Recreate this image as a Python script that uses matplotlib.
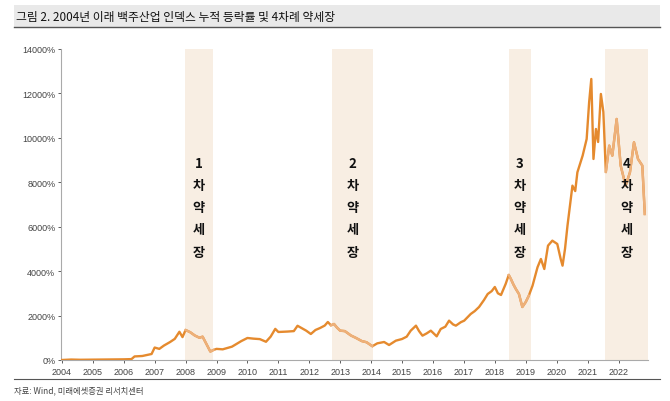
import numpy as np
import matplotlib
matplotlib.use("Agg")
import matplotlib.pyplot as plt
from matplotlib.patches import Rectangle
from matplotlib.lines import Line2D

plt.rcParams['font.family'] = ['Noto Sans CJK KR', 'DejaVu Sans']

# cumulative return of the baijiu index (%)
years = [2004.0, 2004.3, 2004.6, 2005.0, 2005.5, 2006.0, 2006.25, 2006.35, 2006.6, 2006.9,
         2007.0, 2007.15, 2007.3, 2007.5, 2007.65, 2007.8, 2007.9, 2008.0, 2008.15, 2008.3,
         2008.45, 2008.55, 2008.7, 2008.8, 2008.9, 2009.0, 2009.2, 2009.5, 2009.8, 2010.0,
         2010.2, 2010.4, 2010.6, 2010.75, 2010.9, 2011.0, 2011.3, 2011.5, 2011.62, 2011.8,
         2011.9, 2012.05, 2012.2, 2012.35, 2012.5, 2012.6, 2012.7, 2012.8, 2012.9, 2013.0,
         2013.15, 2013.35, 2013.5, 2013.7, 2013.85, 2014.04, 2014.2, 2014.42, 2014.58, 2014.8,
         2015.0, 2015.15, 2015.28, 2015.45, 2015.55, 2015.66, 2015.8, 2015.93, 2016.12, 2016.25,
         2016.4, 2016.52, 2016.65, 2016.74, 2016.9, 2017.01, 2017.22, 2017.35, 2017.49, 2017.65,
         2017.77, 2017.9, 2018.0, 2018.1, 2018.2, 2018.35, 2018.45, 2018.52, 2018.6, 2018.68,
         2018.78, 2018.89, 2019.0, 2019.1, 2019.22, 2019.38, 2019.49, 2019.6, 2019.72, 2019.86,
         2020.02, 2020.13, 2020.19, 2020.27, 2020.35, 2020.51, 2020.6, 2020.67, 2020.84, 2020.97,
         2021.05, 2021.12, 2021.19, 2021.27, 2021.34, 2021.43, 2021.51, 2021.59, 2021.70, 2021.80,
         2021.94, 2022.07, 2022.23, 2022.37, 2022.50, 2022.63, 2022.77, 2022.85]
returns = [0, 20, 10, 15, 20, 30, 40, 160, 180, 270,
           560, 500, 650, 810, 950, 1270, 1030, 1350, 1250, 1100,
           1000, 1050, 650, 380, 450, 500, 480, 600, 850, 990,
           960, 940, 820, 1050, 1400, 1260, 1280, 1300, 1540, 1400,
           1320, 1170, 1350, 1440, 1550, 1710, 1560, 1620, 1450, 1320,
           1300, 1100, 1000, 850, 800, 620, 750, 810, 675, 870,
           945, 1050, 1320, 1545, 1300, 1095, 1200, 1320, 1065, 1395,
           1500, 1770, 1600, 1545, 1700, 1770, 2070, 2200, 2385, 2700,
           2970, 3100, 3285, 3000, 2925, 3420, 3825, 3645, 3400, 3195,
           2970, 2385, 2610, 2895, 3345, 4170, 4545, 4095, 5145, 5370,
           5220, 4545, 4245, 5000, 6045, 7845, 7600, 8445, 9195, 9945,
           11600, 12645, 9045, 10395, 9810, 11970, 11160, 8460, 9645, 9195,
           10845, 8745, 7845, 8445, 9795, 9045, 8745, 6570]

# bear market windows
bear_start = [2007.98, 2012.73, 2018.45, 2021.56]
bear_end = [2008.88, 2014.05, 2019.16, 2022.95]
bear_labels = ["1\n차\n약\n세\n장", "2\n차\n약\n세\n장", "3\n차\n약\n세\n장", "4\n차\n약\n세\n장"]

x = np.array(years)
y = np.array(returns)

fig = plt.figure(figsize=(6.7, 4.02), dpi=100)
ax = fig.add_axes([0.091, 0.102, 0.876, 0.774])

for s, e, lab in zip(bear_start, bear_end, bear_labels):
    ax.axvspan(s, e, color='#F8EEE3', lw=0, zorder=0)
    ax.text((s + e) / 2, 9200, lab, ha='center', va='top', fontsize=9.5,
            fontweight='bold', color='#111111', linespacing=1.75, zorder=5)

ax.plot(x, y, color='#E58A2E', lw=1.7, zorder=3)
# lighter colour inside the bear windows
for s, e in zip(bear_start, bear_end):
    m = (x >= s - 0.03) & (x <= e + 0.03)
    ax.plot(x[m], y[m], color='#EDB07A', lw=1.7, zorder=4)

ax.set_xlim(2003.97, 2022.95)
ax.set_ylim(0, 14000)
ax.set_yticks(np.arange(0, 14001, 2000))
ax.set_yticklabels([f"{v}%" for v in range(0, 14001, 2000)])
ax.set_xticks(range(2004, 2023))
ax.tick_params(axis='both', labelsize=6.5, colors='#444444', length=2, width=0.6,
               pad=2, labelfontfamily='Liberation Sans')
ax.tick_params(axis='x', pad=3)
for sp in ['top', 'right']:
    ax.spines[sp].set_visible(False)
for sp in ['left', 'bottom']:
    ax.spines[sp].set_color('#AAAAAA')
    ax.spines[sp].set_linewidth(0.8)

# title bar
fig.patches.append(Rectangle((14 / 670, 1 - 28 / 402), 646 / 670, 22 / 402,
                             transform=fig.transFigure, color='#E9E9E9', lw=0))
fig.lines.append(Line2D([14 / 670, 660 / 670], [1 - 28 / 402] * 2,
                        transform=fig.transFigure, color='#555555', lw=1.0))
fig.text(16 / 670, 1 - 17 / 402, "그림 2. 2004년 이래 백주산업 인덱스 누적 등락률 및 4차례 약세장",
         fontsize=8.5, va='center', ha='left', color='#111111')

# footer
fig.lines.append(Line2D([14 / 670, 660 / 670], [1 - 380 / 402] * 2,
                        transform=fig.transFigure, color='#555555', lw=0.8))
fig.text(14 / 670, 1 - 391 / 402, "자료: Wind, 미래에셋증권 리서치센터", fontsize=6,
         va='center', ha='left', color='#444444')

fig.savefig("out.png", dpi=100)
